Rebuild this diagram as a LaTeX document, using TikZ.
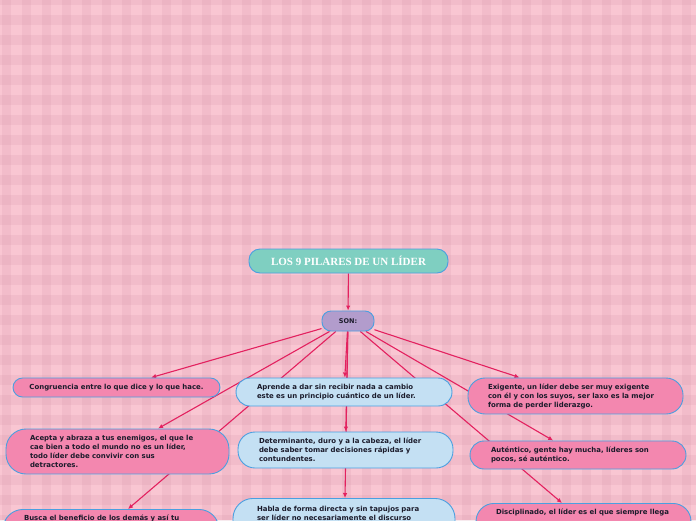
\documentclass[tikz,border=0pt]{standalone}
\usepackage{fontspec}
\newfontfamily\cajafont{DejaVu Sans}
\newfontfamily\titulofont{Liberation Serif}
\usetikzlibrary{arrows.meta}

\definecolor{fondorosa}{HTML}{F9C6D2}
\definecolor{franja}{HTML}{D894AA}
\definecolor{flecha}{HTML}{E3215F}
\definecolor{borde}{HTML}{4A9FE0}
\definecolor{rosa}{HTML}{F387AF}
\definecolor{celeste}{HTML}{C4E0F3}
\definecolor{turquesa}{HTML}{7FCFC1}
\definecolor{lila}{HTML}{B29CCC}
\definecolor{tinta}{HTML}{1B1B2B}

\pgfdeclarelayer{fondo}
\pgfdeclarelayer{lineas}
\pgfsetlayers{fondo,lineas,main}

\tikzset{
  caja/.style={draw=borde, line width=0.9pt, rounded corners=14pt, inner xsep=21pt, inner ysep=0pt,
    align=left, text=tinta, font=\cajafont\bfseries\fontsize{6.95}{9}\selectfont},
  rosada/.style={caja, fill=rosa},
  azul/.style={caja, fill=celeste},
  cortada/.style={anchor=north, inner ysep=5pt, text height=6pt, text depth=34pt},
  conector/.style={-{Latex[length=5pt,width=4.5pt]}, draw=flecha, line width=1.1pt},
}

\begin{document}
\begin{tikzpicture}[x=1pt,y=-1pt]
  \useasboundingbox (0,0) rectangle (696,520);
  \clip (0,0) rectangle (696,520);
  % fondo a cuadros
  \begin{pgfonlayer}{fondo}
    \fill[fondorosa] (0,0) rectangle (696,520);
    \foreach \x in {0,20,...,680}
      \fill[franja,opacity=0.2] (\x+2,0) rectangle (\x+11,520);
    \foreach \y in {0,20,...,520}
      \fill[franja,opacity=0.2] (0,\y-5) rectangle (696,\y+5);
  \end{pgfonlayer}

  % titulo y conector
  \node[draw=borde, line width=0.9pt, fill=turquesa, rounded corners=11pt, minimum width=199pt, minimum height=24pt,
    text=white, font=\titulofont\bfseries\fontsize{11}{12}\selectfont] (titulo) at (348.5,261) {LOS 9 PILARES DE UN LÍDER};
  \node[draw=borde, line width=0.9pt, fill=lila, rounded corners=9pt, minimum width=52pt, minimum height=20pt,
    text=tinta, font=\cajafont\bfseries\fontsize{6.5}{7}\selectfont] (son) at (348,321) {SON:};

  % columna izquierda
  \node[rosada, align=center, inner xsep=8.5pt, text width=190pt, minimum height=19pt, rounded corners=9.5pt] (congruencia) at (116.5,387.5)
    {Congruencia entre lo que dice y lo que hace.};
  \node[rosada, inner xsep=24pt, text width=175pt, minimum height=45pt, rounded corners=20pt] (acepta) at (117.5,451.5)
    {Acepta y abraza a tus enemigos, el que le\\cae bien a todo el mundo no es un líder,\\todo líder debe convivir con sus\\detractores.};
  \node[rosada, cortada, text width=174pt, rounded corners=20pt] (busca) at (111,509)
    {Busca el beneficio de los demás y así tu};

  % columna central
  \node[azul, text width=174pt, minimum height=28pt] (aprende) at (344,392)
    {Aprende a dar sin recibir nada a cambio\\este es un principio cuántico de un líder.};
  \node[azul, text width=173pt, minimum height=36pt, rounded corners=17pt] (determinante) at (345.5,450)
    {Determinante, duro y a la cabeza, el líder\\debe saber tomar decisiones rápidas y\\contundentes.};
  \node[azul, cortada, inner xsep=24pt, text width=174pt, text height=8pt, text depth=32pt, rounded corners=20pt] (habla) at (344,498)
    {Habla de forma directa y sin tapujos para\\ser líder no necesariamente el discurso};

  % columna derecha
  \node[rosada, inner xsep=20pt, text width=175pt, minimum height=36pt, rounded corners=17pt] (exigente) at (575.5,396)
    {Exigente, un líder debe ser muy exigente\\con él y con los suyos, ser laxo es la mejor\\forma de perder liderazgo.};
  \node[rosada, text width=174pt, minimum height=28pt] (autentico) at (578,455)
    {Auténtico, gente hay mucha, líderes son\\pocos, sé auténtico.};
  \node[rosada, cortada, inner xsep=20pt, text width=175pt, rounded corners=18pt] (disciplinado) at (583.5,503)
    {Disciplinado, el líder es el que siempre llega};

  % conectores
  \begin{pgfonlayer}{lineas}
    \draw[conector] (titulo) -- (son);
    \draw[conector] (son) -- (congruencia);
    \draw[conector] (son) -- (acepta);
    \draw[conector] (son) -- ([xshift=17pt]busca.north);
    \draw[conector] (son) -- (aprende);
    \draw[conector] (son) -- (determinante);
    \draw[conector] (son) -- ([xshift=1pt]habla.north);
    \draw[conector] (son) -- (exigente);
    \draw[conector] (son) -- (autentico);
    \draw[conector] (son) -- ([xshift=-21.5pt]disciplinado.north);
  \end{pgfonlayer}
\end{tikzpicture}
\end{document}
